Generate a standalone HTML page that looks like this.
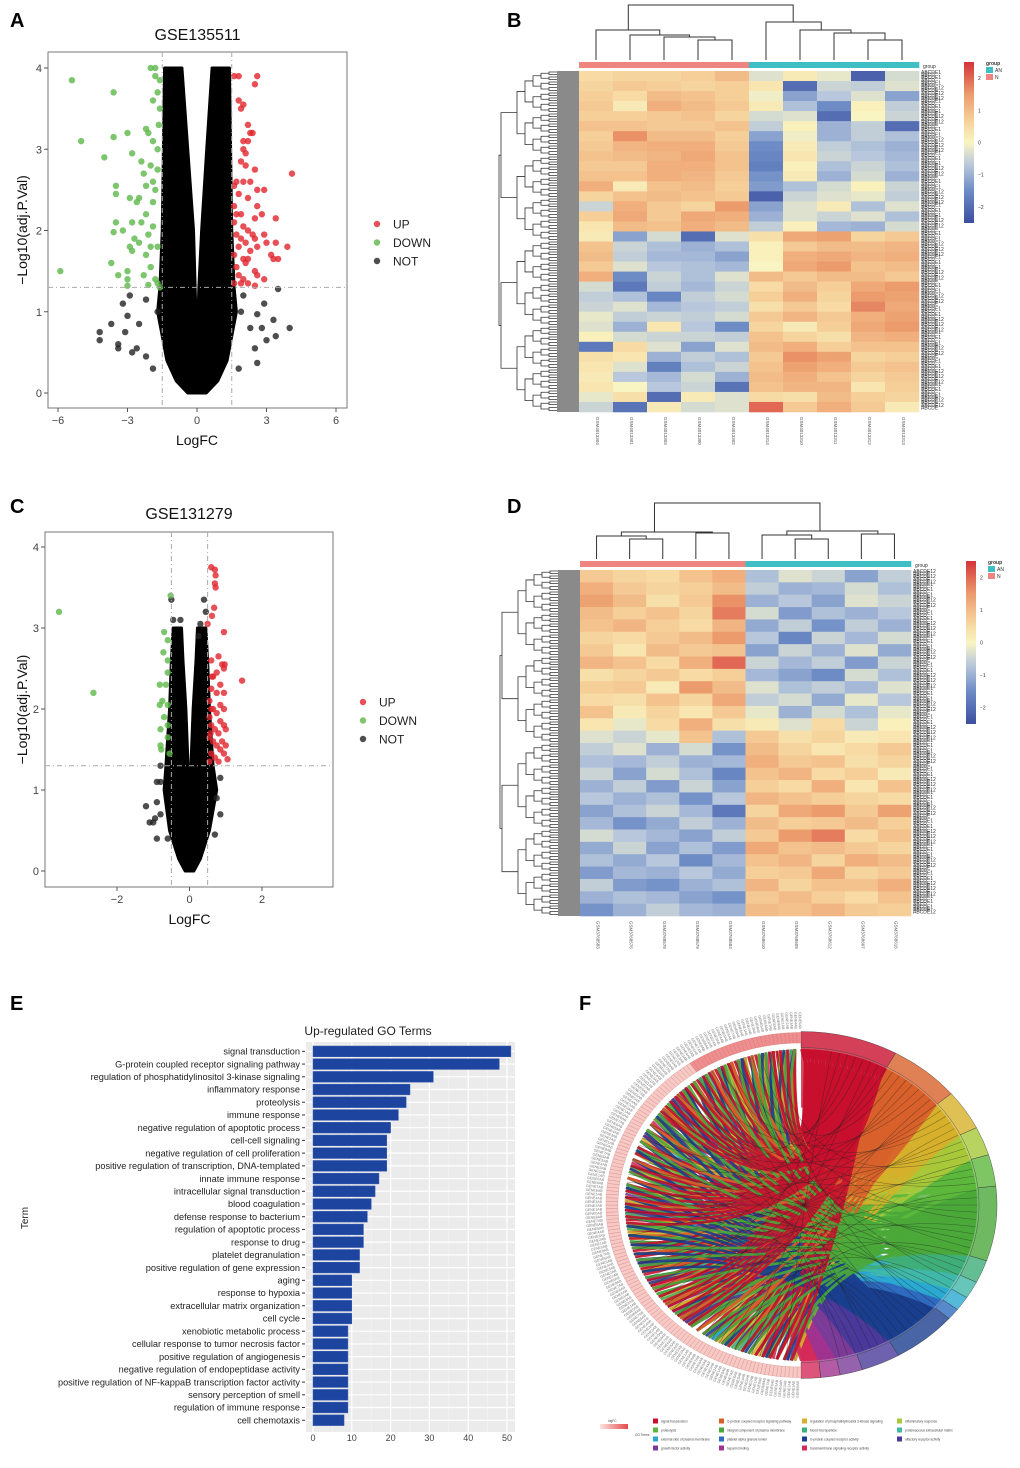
<!DOCTYPE html>
<html><head><meta charset="utf-8">
<style>
html,body{margin:0;padding:0;background:#fff;}
svg{display:block;font-family:"Liberation Sans",sans-serif;}
</style></head>
<body>
<svg id="fig" width="1020" height="1468" viewBox="0 0 1020 1468" xmlns="http://www.w3.org/2000/svg">
<rect width="1020" height="1468" fill="#fff"/>
<g font-weight="bold" font-size="20" fill="#000">
<text x="10" y="27">A</text>
<text x="507" y="27">B</text>
<text x="10" y="513">C</text>
<text x="507" y="513">D</text>
<text x="10" y="1010">E</text>
<text x="579" y="1010">F</text>
</g>
<g id="pA"></g>
<g id="pC"></g>
<g id="pB"></g>
<g id="pD"></g>
<g id="pE"></g>
<g id="pF"></g>
</svg>
<script>
// ---------- DATA ----------
const aUp=[[1.6,3.9],[1.8,3.9],[2.6,3.9],[2.5,3.8],[1.8,3.6],[2.0,3.55],[1.9,3.5],[2.2,3.3],[2.3,3.2],[2.0,3.1],[2.4,3.2],[2.2,3.1],[2.0,3.0],[2.1,2.95],[1.9,2.85],[2.1,2.8],[2.5,2.75],[4.1,2.7],[1.7,2.6],[2.0,2.6],[2.3,2.6],[1.6,2.55],[2.6,2.5],[2.9,2.5],[1.8,2.45],[2.2,2.4],[1.6,2.3],[2.6,2.3],[1.7,2.2],[1.9,2.2],[2.8,2.2],[1.6,2.1],[2.5,2.15],[3.4,2.15],[2.0,2.05],[2.2,2.0],[1.7,1.95],[2.4,1.95],[2.9,1.95],[1.9,1.9],[2.1,1.85],[2.5,1.9],[3.0,1.85],[1.8,1.8],[2.3,1.75],[2.6,1.8],[3.4,1.85],[3.9,1.8],[1.6,1.7],[2.0,1.65],[2.2,1.65],[3.2,1.7],[3.3,1.65],[3.5,1.65],[1.7,1.55],[2.1,1.6],[2.5,1.5],[1.8,1.45],[2.0,1.4],[2.6,1.45],[1.6,1.35],[1.9,1.35],[2.2,1.35],[2.9,1.4],[2.5,1.32]];
const aDown=[[-5.4,3.85],[-3.6,3.7],[-2.0,4.0],[-1.8,4.0],[-1.8,3.9],[-1.6,3.85],[-1.7,3.7],[-1.9,3.6],[-1.6,3.5],[-1.65,3.3],[-2.1,3.2],[-2.2,3.25],[-3.0,3.2],[-3.6,3.15],[-5.0,3.1],[-1.9,3.1],[-1.7,3.0],[-2.8,2.95],[-4.0,2.9],[-2.4,2.85],[-2.0,2.8],[-1.7,2.75],[-2.3,2.7],[-1.9,2.6],[-2.2,2.55],[-3.5,2.55],[-1.8,2.5],[-2.5,2.4],[-3.5,2.45],[-2.9,2.4],[-2.6,2.35],[-1.9,2.35],[-2.2,2.2],[-2.8,2.1],[-3.5,2.1],[-2.4,2.1],[-1.9,2.05],[-3.6,1.98],[-3.2,2.0],[-2.1,1.95],[-2.7,1.9],[-2.5,1.85],[-2.0,1.8],[-1.7,1.8],[-2.9,1.8],[-2.8,1.75],[-2.2,1.7],[-3.7,1.6],[-2.0,1.55],[-3.0,1.5],[-5.9,1.5],[-3.4,1.45],[-2.3,1.45],[-1.8,1.4],[-3.0,1.4],[-1.7,1.35],[-2.1,1.33],[-3.0,1.32],[-1.6,1.3]];
const aNot=[[-4.2,0.75],[-4.2,0.65],[-3.7,0.85],[-3.4,0.6],[-3.4,0.55],[-3.1,0.75],[-3.0,0.95],[-2.8,0.5],[-2.6,0.55],[-3.2,1.1],[-2.9,1.2],[-2.5,0.85],[-2.2,0.45],[2.6,0.97],[2.9,1.1],[3.0,0.65],[3.3,0.9],[3.4,0.7],[4.0,0.8],[2.6,0.37],[2.8,0.8],[3.5,1.28],[2.5,0.55],[-2.2,1.15],[2.3,0.8],[2.0,1.2],[-1.9,0.3],[1.8,0.3],[-1.7,1.0],[1.9,1.0]];
const aEnvY=[0,0.15,0.4,1.0,1.3,2,3,4];
const aOuterL=[-0.4,-0.9,-1.3,-1.7,-1.6,-1.5,-1.45,-1.4];
const aInnerL=[0,0,0,-0.05,-0.08,-0.15,-0.4,-0.65];
const aOuterR=[0.4,0.9,1.3,1.7,1.6,1.5,1.45,1.4];
const aInnerR=[0,0,0,0.05,0.08,0.2,0.42,0.65];
const cUp=[[0.6,3.75],[0.7,3.72],[0.72,3.65],[0.7,3.55],[0.72,3.5],[0.68,3.25],[0.62,3.15],[0.5,3.05],[0.95,2.95],[1.45,2.35],[0.8,2.65],[0.6,2.6],[0.9,2.55],[0.97,2.55],[0.95,2.5],[0.75,2.45],[0.65,2.4],[0.85,2.3],[0.6,2.25],[0.75,2.2],[0.95,2.2],[0.55,2.1],[0.85,2.05],[0.65,2.0],[0.95,2.0],[0.75,1.95],[0.55,1.9],[0.85,1.85],[0.95,1.8],[0.6,1.8],[0.7,1.75],[1.0,1.75],[0.8,1.7],[0.55,1.65],[0.9,1.6],[0.65,1.6],[0.75,1.55],[1.0,1.55],[0.85,1.5],[0.6,1.45],[0.95,1.45],[0.7,1.4],[1.05,1.38],[0.8,1.35],[0.55,1.35],[0.6,2.0],[0.58,1.7],[0.62,2.4]];
const cDown=[[-3.6,3.2],[-2.65,2.2],[-0.52,3.4],[-0.7,2.95],[-0.6,2.85],[-0.72,2.7],[-0.6,2.6],[-0.6,2.45],[-0.82,2.3],[-0.65,2.3],[-0.75,2.1],[-0.6,2.05],[-0.82,2.05],[-0.7,1.9],[-0.6,1.8],[-0.8,1.75],[-0.6,1.65],[-0.8,1.55],[-0.78,1.5],[-0.55,1.45]];
const cNot=[[-1.2,0.8],[-1.1,0.6],[-1.0,0.6],[-0.95,0.65],[-0.8,0.7],[-0.9,0.85],[-0.8,1.1],[-0.9,1.1],[-0.8,1.3],[-0.9,0.4],[-0.6,0.4],[0.7,0.45],[0.85,0.7],[0.75,0.9],[0.85,1.15],[0.4,3.35],[0.45,3.2],[-0.5,3.35],[-0.45,3.1],[0.3,3.05],[-0.25,3.1],[0.25,2.9]];
const cEnvY=[0,0.15,0.5,1.0,1.3,2,2.6,3.0];
const cOuterL=[-0.12,-0.3,-0.55,-0.7,-0.65,-0.55,-0.5,-0.45];
const cInnerL=[0,0,0,-0.02,-0.04,-0.1,-0.18,-0.22];
const cOuterR=[0.12,0.3,0.55,0.75,0.65,0.55,0.5,0.45];
const cInnerR=[0,0,0,0.02,0.04,0.1,0.18,0.22];

const bMatrix=[
[0.5,0.6,0.6,0.7,1.0,-0.3,0.2,-0.2,-2.2,-0.4],[0.6,0.8,0.7,0.6,0.7,0.3,-2.0,-0.5,-0.6,-0.3],
[0.7,0.5,1.0,0.9,0.7,-0.1,-1.2,-0.7,-0.3,-1.2],[0.8,0.2,1.2,1.0,0.8,0.2,-0.8,-1.5,0.1,-0.6],
[0.7,0.7,0.8,0.9,0.6,-0.4,-0.3,-2.0,0.0,-0.5],[0.9,0.9,0.8,0.8,0.9,-0.6,0.1,-1.0,-0.6,-2.0],
[0.7,1.6,1.0,1.0,0.7,-1.2,-0.1,-1.0,-0.6,-0.8],[0.8,1.1,1.2,1.2,0.8,-1.5,0.2,-0.6,-0.8,-1.0],
[0.9,1.0,1.1,1.3,0.9,-1.6,0.3,-0.5,-0.7,-0.9],[0.8,0.8,1.2,1.2,0.9,-1.7,0.1,-0.8,-0.5,-0.8],
[0.9,0.9,1.2,1.1,0.8,-1.4,0.2,-1.0,-0.4,-1.0],[1.2,0.2,0.9,1.0,0.7,-1.3,-0.8,-0.4,0.1,-0.5],
[0.6,0.9,1.0,0.9,0.8,-2.2,-0.5,-0.3,-0.2,-0.6],[-0.5,1.2,0.8,0.6,1.5,-1.2,-0.3,0.2,-0.8,-0.3],
[0.7,1.3,0.8,1.3,1.2,-1.0,-0.3,-0.5,-0.3,-0.8],[0.3,1.0,0.9,1.2,1.0,-0.6,0.1,-0.9,-1.0,-0.4],
[0.2,-1.2,-0.4,-2.0,-0.3,0.4,1.3,1.4,0.6,0.8],[0.9,-0.5,-0.8,-1.0,-0.8,0.1,0.8,1.0,1.0,1.1],
[1.0,-0.6,-0.9,-0.9,-1.2,0.1,1.2,1.3,1.1,1.2],[0.8,-0.3,-0.7,-0.8,-0.9,0.0,1.3,1.5,0.9,1.0],
[1.2,-1.5,-0.5,-0.8,-0.3,1.0,0.8,1.0,1.0,0.8],[-0.4,-1.8,-0.6,-0.9,-0.5,0.5,1.0,0.7,1.3,1.5],
[-0.6,-0.8,-1.6,-0.6,-0.4,0.7,1.2,0.6,1.5,1.4],[-0.5,-0.3,-0.9,-0.7,-0.6,0.4,0.8,0.5,1.7,1.3],
[-0.2,-0.6,-0.5,-0.6,-0.4,0.8,1.1,0.8,1.2,1.4],[-0.3,-1.0,0.3,-0.7,-1.5,0.6,0.2,0.7,1.3,1.5],
[0.1,-0.4,-0.5,-0.5,-0.6,0.9,0.6,0.4,1.1,1.2],[-1.8,0.5,-0.3,-1.2,-0.3,1.0,1.2,0.7,0.9,0.9],
[0.4,0.3,-1.0,-0.6,-0.8,0.8,1.6,1.4,0.6,0.7],[0.3,-0.3,-1.7,-0.8,-0.5,0.9,1.4,1.2,0.8,0.9],
[0.2,-0.7,-0.9,-0.4,-1.0,1.0,1.2,0.9,0.6,0.8],[0.3,0.0,-0.7,-0.5,-1.9,0.9,1.1,1.1,0.3,0.7],
[-0.2,0.4,-2.0,0.2,-0.3,0.5,0.4,1.0,0.7,0.6],[-0.5,-1.9,0.2,-0.4,-0.3,2.0,0.8,1.2,0.8,0.2]];
const bSamples=["GSM4013304","GSM4013301","GSM4013303","GSM4013300","GSM4013302","GSM4013314","GSM4013310","GSM4013311","GSM4013312","GSM4013313"];
const dMatrix=[
[0.8,0.6,0.5,0.9,1.2,-0.8,-0.3,-0.5,-1.2,-0.6],[1.2,0.8,0.6,0.7,1.0,-0.6,-1.0,-0.9,-0.4,-0.8],
[1.4,1.0,0.4,0.8,1.6,-1.0,-0.7,-1.2,-0.3,-0.5],[1.0,0.7,0.9,0.6,1.8,-0.4,-1.3,-0.8,-1.0,-0.7],
[0.9,1.1,0.7,0.5,1.1,-1.1,-0.6,-1.4,-0.6,-1.0],[0.6,0.5,0.8,1.0,1.5,-0.7,-1.6,-0.5,-0.9,-0.4],
[0.8,0.3,1.0,0.8,0.9,-1.2,-0.5,-1.0,-0.3,-1.1],[1.1,0.9,0.5,1.2,2.0,-0.5,-0.9,-0.6,-1.3,-0.5],
[0.4,0.6,0.8,0.5,0.7,-0.9,-1.2,-1.5,-0.4,-0.8],[0.7,0.8,0.2,1.5,1.0,-0.3,-0.8,-0.6,-0.9,-0.3],
[0.5,0.4,0.9,0.6,1.3,-0.6,-0.4,-1.1,-0.2,-0.7],[0.9,0.2,0.6,0.3,0.8,-0.2,-1.0,-0.4,-0.8,-0.2],
[0.3,-0.2,0.5,1.2,0.4,0.2,-0.3,0.5,-0.5,0.1],[-0.3,-0.5,-0.2,0.9,-0.8,0.8,0.4,0.6,0.2,0.3],
[-0.6,-0.3,-1.0,-0.4,-1.4,1.0,0.6,0.3,0.5,0.8],[-0.8,-0.9,-0.6,-1.0,-0.9,1.2,0.8,0.9,0.4,0.6],
[-0.5,-1.2,-0.4,-0.8,-1.6,0.9,1.1,0.5,0.7,0.2],[-1.0,-0.6,-1.3,-0.5,-1.2,0.7,0.5,1.2,0.3,0.9],
[-0.7,-1.0,-0.8,-1.4,-0.7,1.1,0.9,0.7,0.6,0.5],[-1.2,-0.8,-0.5,-0.9,-1.8,0.6,1.3,1.5,0.8,1.4],
[-0.9,-1.4,-1.1,-0.6,-1.0,1.0,0.7,0.8,1.0,0.7],[-0.4,-0.7,-0.9,-1.2,-0.6,0.8,1.5,1.8,0.5,0.9],
[-1.1,-0.5,-1.2,-0.8,-1.3,1.3,0.9,1.0,0.8,0.6],[-0.8,-1.1,-0.7,-1.5,-0.9,0.9,1.1,0.6,1.2,1.0],
[-1.3,-0.9,-1.0,-0.7,-1.1,0.7,0.8,1.3,0.6,0.8],[-0.6,-1.3,-1.4,-1.0,-0.8,1.1,0.6,0.9,0.9,1.2],
[-1.0,-0.8,-0.9,-1.2,-1.4,0.8,1.0,0.7,0.5,0.9],[-1.4,-1.0,-0.6,-0.9,-1.0,1.0,0.9,1.1,0.8,0.7]];
const dSamples=["GSM3768583","GSM3768576","GSM3768578","GSM3768579","GSM3768584","GSM3768610","GSM3768609","GSM3768612","GSM3768607","GSM3768616"];

const goTerms=["signal transduction","G-protein coupled receptor signaling pathway","regulation of phosphatidylinositol 3-kinase signaling","inflammatory response","proteolysis","immune response","negative regulation of apoptotic process","cell-cell signaling","negative regulation of cell proliferation","positive regulation of transcription, DNA-templated","innate immune response","intracellular signal transduction","blood coagulation","defense response to bacterium","regulation of apoptotic process","response to drug","platelet degranulation","positive regulation of gene expression","aging","response to hypoxia","extracellular matrix organization","cell cycle","xenobiotic metabolic process","cellular response to tumor necrosis factor","positive regulation of angiogenesis","negative regulation of endopeptidase activity","positive regulation of NF-kappaB transcription factor activity","sensory perception of smell","regulation of immune response","cell chemotaxis"];
const goCounts=[51,48,31,25,24,22,20,19,19,19,17,16,15,14,13,13,12,12,10,10,10,10,9,9,9,9,9,9,9,8];
const goTicks=[0,10,20,30,40,50];

const chordTerms=["signal transduction","G-protein coupled receptor signaling pathway","regulation of phosphatidylinositol 3-kinase signaling","inflammatory response","proteolysis","integral component of plasma membrane","blood microparticle","proteinaceous extracellular matrix","external side of plasma membrane","platelet alpha granule lumen","G-protein coupled receptor activity","olfactory receptor activity","growth factor activity","heparin binding","transmembrane signaling receptor activity"];
const chordSizes=[30,22,14,10,11,26,8,6,5,4,20,12,7,6,6];
const chordColors=["#c8102e","#d8612a","#d6b02a","#a8c83a","#5cb83c","#4aa83a","#3fae78","#40b8a8","#2aa8d0","#2f6cc0","#1b3f8f","#4a3a9a","#7a3c98","#a0338f","#d42a5a"];

// ---------- helpers ----------
const NS="http://www.w3.org/2000/svg";
function mk(tag,attrs,parent){const e=document.createElementNS(NS,tag);for(const k in attrs)e.setAttribute(k,attrs[k]);parent.appendChild(e);return e;}
function lin(d0,d1,r0,r1){return v=>r0+(v-d0)*(r1-r0)/(d1-d0);}

// ---------- volcano ----------
function volcano(g,o){
  const X=lin(o.xd[0],o.xd[1],o.xr[0],o.xr[1]),Y=lin(0,4,o.y0,o.y4);
  let t=mk('text',{x:(o.box[0]+o.box[2])/2,y:o.titleY,'text-anchor':'middle','font-size':16,fill:'#111'},g);t.textContent=o.title;
  
  
  let bx=mk('rect',{x:o.box[0],y:o.box[1],width:o.box[2]-o.box[0],height:o.box[3]-o.box[1],fill:'#fff',stroke:'#777','stroke-width':1},g);
  
  
  let pts=[];
  for(let i=0;i<o.envY.length;i++)pts.push([X(o.outL[i]),Y(o.envY[i])]);
  for(let i=o.envY.length-1;i>=0;i--)pts.push([X(o.inL[i]),Y(o.envY[i])]);
  for(let i=0;i<o.envY.length;i++)pts.push([X(o.inR[i]),Y(o.envY[i])]);
  for(let i=o.envY.length-1;i>=0;i--)pts.push([X(o.outR[i]),Y(o.envY[i])]);
  let poly=mk('polygon',{points:pts.map(p=>p.join(',')).join(' '),fill:'#000',stroke:'#000','stroke-width':3,'stroke-linejoin':'round'},g);
  
  
  const series=[[o.not,'#222'],[o.down,'#5cb84a'],[o.up,'#e0242c']];
  series.forEach(([arr,col])=>arr.forEach(p=>{
    let c=mk('circle',{cx:X(p[0]),cy:Y(p[1]),r:3.2,fill:col,'fill-opacity':0.8},g);
    
    
  }));
  o.fc.forEach(v=>{let l=mk('line',{x1:X(v),x2:X(v),y1:o.box[1],y2:o.box[3],stroke:'#aaa','stroke-dasharray':'5,3,1,3'},g);
    
    });
  let hl=mk('line',{x1:o.box[0],x2:o.box[2],y1:Y(1.3),y2:Y(1.3),stroke:'#aaa','stroke-dasharray':'5,3,1,3'},g);
  
  
  [0,1,2,3,4].forEach(v=>{
    mk('line',{x1:o.box[0]-4,x2:o.box[0],y1:Y(v),y2:Y(v),stroke:'#555'},g);
    let tt=mk('text',{x:o.box[0]-6,y:Y(v)+4,'text-anchor':'end','font-size':11,fill:'#444'},g);tt.textContent=v;
    
    
  });
  o.xt.forEach(v=>{
    mk('line',{x1:X(v),x2:X(v),y1:o.box[3],y2:o.box[3]+4,stroke:'#555'},g);
    let tt=mk('text',{x:X(v),y:o.box[3]+16,'text-anchor':'middle','font-size':11,fill:'#444'},g);tt.textContent=v<0?'\u2212'+(-v):v;
    
    
  });
  let xl=mk('text',{x:X(0),y:o.box[3]+37,'text-anchor':'middle','font-size':14,fill:'#111'},g);xl.textContent='LogFC';
  
  
  const yc=(o.box[1]+o.box[3])/2;
  let yl=mk('text',{x:27,y:yc,'text-anchor':'middle','font-size':14,fill:'#111',transform:`rotate(-90 27 ${yc})`},g);yl.textContent='\u2212Log10(adj.P.Val)';
  
  
  [['UP','#e0242c'],['DOWN','#5cb84a'],['NOT','#222']].forEach((l,i)=>{
    let c=mk('circle',{cx:o.legX,cy:o.legY+i*18.5,r:3.2,fill:l[1],'fill-opacity':0.8},g);
    
    
    let tt=mk('text',{x:o.legX+16,y:o.legY+i*18.5+4.5,'font-size':12,fill:'#222'},g);tt.textContent=l[0];
    
    
  });
}
volcano(document.getElementById('pA'),{title:'GSE135511',titleY:40,box:[48,52,347,408],xd:[-6,6],xr:[58,336],y0:393,y4:68,
  up:aUp,down:aDown,not:aNot,envY:aEnvY,outL:aOuterL,inL:aInnerL,outR:aOuterR,inR:aInnerR,fc:[-1.5,1.5],xt:[-6,-3,0,3,6],legX:377,legY:224});
volcano(document.getElementById('pC'),{title:'GSE131279',titleY:519,box:[45,532,333,887],xd:[-2,2],xr:[117,262],y0:871,y4:547,
  up:cUp,down:cDown,not:cNot,envY:cEnvY,outL:cOuterL,inL:cInnerL,outR:cOuterR,inR:cInnerR,fc:[-0.5,0.5],xt:[-2,0,2],legX:363,legY:702});

// ---------- heatmap ----------
const stops=[[-2.5,[60,78,160]],[-1.5,[109,140,198]],[-0.7,[184,199,220]],[0,[249,245,194]],[0.7,[246,207,152]],[1.5,[236,155,109]],[2.5,[212,52,58]]];
function col(v){v=Math.max(-2.5,Math.min(2.5,v));for(let i=0;i<stops.length-1;i++){if(v<=stops[i+1][0]){const t=(v-stops[i][0])/(stops[i+1][0]-stops[i][0]);const a=stops[i][1],b=stops[i+1][1];return `rgb(${a.map((c,k)=>Math.round(c+(b[k]-c)*t)).join(',')})`;}}return 'rgb(212,52,58)';}
function heat(g,M,samples,o){
  const nr=M.length,nc=M[0].length,cw=(o.x1-o.x0)/nc,rh=(o.y1-o.y0)/nr;
  M.forEach((row,r)=>row.forEach((v,c)=>{
    let e=mk('rect',{x:o.x0+c*cw,y:o.y0+r*rh,width:cw+0.3,height:rh+0.3,fill:col(v)},g);
    
    
  }));
  for(let c=0;c<nc;c++){let e=mk('rect',{x:o.x0+c*cw,y:o.by,width:cw+0.3,height:6,fill:c<5?'#ef8580':'#3fbfc4'},g);
    
    }
  let gt=mk('text',{x:o.x1+4,y:o.by+6,'font-size':5,fill:'#333'},g);gt.textContent='group';
  const cx=i=>o.x0+(i+0.5)*cw;
  const dg=mk('g',{stroke:'#333','stroke-width':1,fill:'none'},g);
  
  
  let p='';
  o.tree.forEach(n=>{p+=`M${n[0]},${n[1]}V${n[2]}H${n[3]}V${n[4]}`;});
  mk('path',{d:p},dg);
  const rg=mk('g',{stroke:'#333','stroke-width':0.8,fill:'none'},g);
  
  
  mk('rect',{x:o.x0-22,y:o.y0,width:22,height:o.y1-o.y0,fill:'#8a8a8a',stroke:'none'},g);
  function tree(a,b,depth){const mid=(a+b)/2;if(b-a<4)return {y:mid,x:o.x0-22};const m=Math.floor((a+b)/2);const L=tree(a,m,depth+1),R=tree(m,b,depth+1);const xx=Math.max(o.x0-80,Math.min(L.x,R.x)-6-(depth<2?10:2));mk('path',{d:`M${L.x},${L.y}H${xx}V${R.y}H${R.x}`},rg);return {y:(L.y+R.y)/2,x:xx};}
  tree(o.y0,o.y1,0);
  for(let i=0;i<nc;i++){let t=mk('text',{x:cx(i),y:o.y1+5,'font-size':4.5,fill:'#555',transform:`rotate(90 ${cx(i)} ${o.y1+5})`},g);t.textContent=samples[i];
    
    }
  const glab=mk('g',{'font-size':5,fill:'#333'},g);
  
  
  for(let y=o.y0+3;y<o.y1;y+=2.6){let t=mk('text',{x:o.x1+2,y:y},glab);t.textContent='ABCDE12'.slice(0,4+((y*7|0)%4));}
  const lg=mk('defs',{},g);const gr=mk('linearGradient',{id:o.id+'grad',x1:0,y1:1,x2:0,y2:0},lg);
  stops.forEach(s=>mk('stop',{offset:((s[0]+2.5)/5),'stop-color':`rgb(${s[1].join(',')})`},gr));
  let lb=mk('rect',{x:o.lx,y:o.ly0,width:10,height:o.ly1-o.ly0,fill:`url(#${o.id}grad)`},g);
  
  
  const LY=lin(-2.5,2.5,o.ly1,o.ly0);
  [2,1,0,-1,-2].forEach(v=>{let t=mk('text',{x:o.lx+14,y:LY(v)+2,'font-size':5,fill:'#333'},g);t.textContent=v<0?'\u2212'+(-v):v;});
  let gg=mk('text',{x:o.lx+22,y:o.ly0+3,'font-size':5,'font-weight':'bold',fill:'#333'},g);gg.textContent='group';
  mk('rect',{x:o.lx+22,y:o.ly0+5,width:7,height:6,fill:'#3fbfc4'},g);
  mk('rect',{x:o.lx+22,y:o.ly0+12,width:7,height:6,fill:'#ef8580'},g);
  let t1=mk('text',{x:o.lx+31,y:o.ly0+10,'font-size':5,fill:'#333'},g);t1.textContent='AN';
  let t2=mk('text',{x:o.lx+31,y:o.ly0+17,'font-size':5,fill:'#333'},g);t2.textContent='N';
}
(function(){const x0=579,x1=919,cw=34,c=i=>x0+(i+0.5)*cw;
heat(document.getElementById('pB'),bMatrix,bSamples,{id:'b',x0,x1,y0:71,y1:412,by:62,lx:964,ly0:62,ly1:223,
 tree:[[c(3),60,40,c(4),60],[c(2),60,37,(c(3)+c(4))/2,40],[c(1),60,35,(c(2)+c(3.5))/2,37],[c(0),60,30,(c(1)+c(2.75))/2,35],
 [c(8),60,40,c(9),60],[c(7),60,33,(c(8)+c(9))/2,40],[c(6),60,30,(c(7)+c(8))/2,33],[c(5),60,22,(c(6)+c(7.25))/2,30],
 [(c(0)+c(1.9))/2,30,5,(c(5)+c(6.6))/2,22]]});})();
(function(){const x0=580,x1=911,cw=33.1,c=i=>x0+(i+0.5)*cw;
heat(document.getElementById('pD'),dMatrix,dSamples,{id:'d',x0,x1,y0:570,y1:916,by:561,lx:966,ly0:561,ly1:724,
 tree:[[c(1),559,539,c(2),559],[c(0),559,536,(c(1)+c(2))/2,539],[c(3),559,533,c(4),559],[(c(0)+c(1.5))/2,536,532,(c(3)+c(4))/2,533],
 [c(6),559,539,c(7),559],[c(5),559,535,(c(6)+c(7))/2,539],[c(8),559,534,c(9),559],[(c(5)+c(6.5))/2,535,531,(c(8)+c(9))/2,534],
 [(c(0)+c(3.5))/2,532,503,(c(5)+c(8.5))/2,531]]});})();

// ---------- bar chart ----------
(function(){
  const g=document.getElementById('pE');
  const X=lin(0,50,313,507),top=1045,step=12.72;
  mk('rect',{x:306,y:1042,width:209,height:390,fill:'#ebebeb'},g);
  [5,15,25,35,45].forEach(v=>mk('line',{x1:X(v),x2:X(v),y1:1042,y2:1432,stroke:'#f6f6f6','stroke-width':0.6},g));
  goTicks.forEach(v=>mk('line',{x1:X(v),x2:X(v),y1:1042,y2:1432,stroke:'#fff','stroke-width':1.2},g));
  goTerms.forEach((t,i)=>mk('line',{x1:306,x2:515,y1:top+i*step+step/2,y2:top+i*step+step/2,stroke:'#fff','stroke-width':1.2},g));
  goCounts.forEach((v,i)=>{
    let r=mk('rect',{x:X(0),y:top+i*step+1,width:X(v)-X(0),height:step-2,fill:'#1d45a0',stroke:'#3a5ab0','stroke-width':0.5},g);
    
    
    let t=mk('text',{x:300,y:top+i*step+step/2+3.2,'text-anchor':'end','font-size':9.2,fill:'#222'},g);t.textContent=goTerms[i];
    
    
    mk('line',{x1:302,x2:305,y1:top+i*step+step/2,y2:top+i*step+step/2,stroke:'#333'},g);
  });
  goTicks.forEach(v=>{let t=mk('text',{x:X(v),y:1441,'text-anchor':'middle','font-size':9,fill:'#444'},g);t.textContent=v;
    
    });
  let tt=mk('text',{x:368,y:1035,'text-anchor':'middle','font-size':12,fill:'#222'},g);tt.textContent='Up-regulated GO Terms';
  
  
  let yl=mk('text',{x:28,y:1218,'text-anchor':'middle','font-size':10,fill:'#222',transform:'rotate(-90 28 1218)'},g);yl.textContent='Term';
  
  
})();

// ---------- chord ----------
(function(){
  const g=document.getElementById('pF');
  const cx=801,cy=1205,sy=0.885;
  const inner=mk('g',{transform:`translate(${cx} ${cy}) scale(1 ${sy})`},g);
  const total=chordSizes.reduce((a,b)=>a+b,0);
  const A=d=>d*Math.PI/180;
  const P=(r,a)=>[r*Math.cos(A(a)),r*Math.sin(A(a))];
  function arc(r0,r1,a0,a1){const p0=P(r1,a0),p1=P(r1,a1),p2=P(r0,a1),p3=P(r0,a0);const lg=(a1-a0)>180?1:0;return `M${p0}A${r1},${r1} 0 ${lg} 1 ${p1}L${p2}A${r0},${r0} 0 ${lg} 0 ${p3}Z`;}
  const nGenes=150;
  let a=-90;const segs=[];
  chordSizes.forEach((s,t)=>{const span=180*s/total;segs.push([a,a+span]);a+=span;});
  // solid term wedges near the ring
  segs.forEach((sg,t)=>{mk('path',{d:arc(110,178,sg[0],sg[1]),fill:chordColors[t],'fill-opacity':0.75},inner);});
  const linkG=mk('g',{fill:'none','stroke-opacity':0.9},inner);
  
  
  const maxN=Math.max(...chordSizes)*3;
  for(let k=0;k<maxN;k++){
    chordSizes.forEach((s,t)=>{
      const n=s*3;if(k>=n)return;
      const [a0,a1]=segs[t];
      const ta=a0+(a1-a0)*(k+0.5)/n;
      const gi=(k*37+t*53+k*t*11)%nGenes;
      const ga=92+176*gi/(nGenes-1);
      const p1=P(176,ta),p2=P(176,ga);
      mk('path',{d:`M${p1}Q${P(50,(ta+ga)/2)} ${p2}`,stroke:chordColors[t],'stroke-width':3},linkG);
    });
  }
  for(let k=0;k<60;k++){const ta=-80+160*((k*29)%60)/60,ga=95+170*((k*17)%60)/60;mk('path',{d:`M${P(176,ta)}Q0,0 ${P(176,ga)}`,stroke:'#222','stroke-width':0.6,'stroke-opacity':0.5},linkG);}
  segs.forEach((sg,t)=>{let e=mk('path',{d:arc(178,196,sg[0],sg[1]),fill:chordColors[t],'fill-opacity':0.8,stroke:'#333','stroke-width':0.4},inner);
    
    });
  for(let i=0;i<nGenes;i++){const a0=90+180*i/nGenes,a1=90+180*(i+1)/nGenes;const shade=i>120?'#ee8e8e':'#f6c9c4';
    let e=mk('path',{d:arc(183,195,a0,a1),fill:shade,stroke:'#c66','stroke-width':0.25},inner);
    
    }
  const lab=mk('g',{'font-size':3.6,fill:'#777'},g);
  
  
  for(let i=0;i<nGenes;i++){const ang=90+180*(i+0.5)/nGenes;const r=199;const x=cx+r*Math.cos(A(ang)),y=cy+r*sy*Math.sin(A(ang));
    let t=mk('text',{x:x,y:y,'text-anchor':'end',transform:`rotate(${ang-180} ${x} ${y})`},lab);t.textContent='GENE'+(i%9)+'AB';}
  const lgG=mk('g',{'font-size':3.2,fill:'#444'},g);
  
  
  const gradD=mk('defs',{},g);const gr=mk('linearGradient',{id:'fcg'},gradD);mk('stop',{offset:0,'stop-color':'#fbe3e0'},gr);mk('stop',{offset:1,'stop-color':'#e44a4a'},gr);
  mk('rect',{x:600,y:1424,width:28,height:5,fill:'url(#fcg)'},g);
  let lt=mk('text',{x:608,y:1422},lgG);lt.textContent='logFC';
  let gt=mk('text',{x:635,y:1436},lgG);gt.textContent='GO Terms';
  const colsX=[653,719,802,897],rowsY=[1422,1431,1440,1449];
  chordTerms.forEach((t,i)=>{const cxx=colsX[i%4],cyy=rowsY[Math.floor(i/4)];
    let r=mk('rect',{x:cxx,y:cyy-3.5,width:5,height:5,fill:chordColors[i]},g);
    
    
    let tt=mk('text',{x:cxx+8,y:cyy+0.5},lgG);tt.textContent=t;
    
    });
})();
</script>
</body></html>
